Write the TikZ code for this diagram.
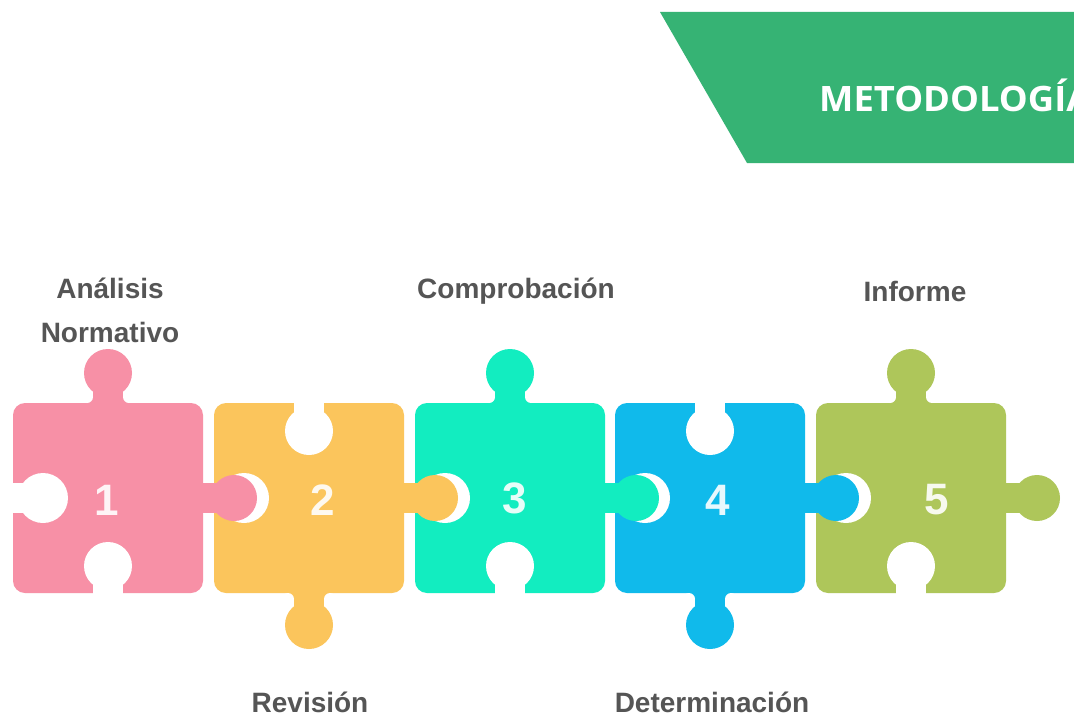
\documentclass[tikz,border=0pt]{standalone}
\usepackage{fontspec}
\setmainfont{Liberation Sans}
\newfontfamily\headfont{Open Sans}
\definecolor{cpink}{HTML}{F790A6}
\definecolor{cyellow}{HTML}{FBC55C}
\definecolor{cteal}{HTML}{12EDC0}
\definecolor{cblue}{HTML}{10BAEB}
\definecolor{cgreen}{HTML}{AEC65A}
\definecolor{chead}{HTML}{36B374}
\definecolor{clabel}{HTML}{555555}
\tikzset{
  lbl/.style={font=\bfseries\fontsize{28}{28}\selectfont, text=clabel, anchor=base, inner sep=0pt},
  num/.style={font=\bfseries\fontsize{44}{44}\selectfont, text=white, text opacity=0.9, inner sep=0pt},
}
% body with top knob (type 1) or bottom knob (type 2)
\newcommand\pbody[3]{% cx, colour, type
  \fill[#2, rounded corners=12pt] ({#1-95},403) rectangle ({#1+95},593);
  \ifnum#3=1
    \fill[#2] (#1,373) circle[radius=24pt];
    \fill[#2] ({#1-15},373) rectangle ({#1+15},406);
    \fill[#2] ({#1-21},397) rectangle ({#1+21},404);
    \fill[white] ({#1-21},397) circle[radius=6pt];
    \fill[white] ({#1+21},397) circle[radius=6pt];
  \else
    \fill[#2] (#1,625) circle[radius=24pt];
    \fill[#2] ({#1-15},590) rectangle ({#1+15},625);
    \fill[#2] ({#1-21},592) rectangle ({#1+21},599);
    \fill[white] ({#1-21},599) circle[radius=6pt];
    \fill[white] ({#1+21},599) circle[radius=6pt];
  \fi}
\newcommand\pholes[2]{% cx, type
  \ifnum#2=1
    \fill[white] (#1,566) circle[radius=24pt];
    \fill[white] ({#1-15},566) rectangle ({#1+15},597);
  \else
    \fill[white] (#1,431) circle[radius=24pt];
    \fill[white] ({#1-15},399) rectangle ({#1+15},431);
  \fi
  \fill[white] ({#1-65},498) circle[radius=25pt];
  \fill[white] ({#1-99},483) rectangle ({#1-65},513);}
\newcommand\pknob[2]{% cx, colour
  \fill[#2] ({#1+126},498) circle[radius=23pt];
  \fill[#2] ({#1+92},483) rectangle ({#1+126},513);}
\begin{document}
\begin{tikzpicture}[x=1pt,y=-1pt]
\useasboundingbox (0,0) rectangle (1074,717);
\fill[white] (0,0) rectangle (1074,717);
\begin{scope}
  \clip (0,0) rectangle (1074,717);
  \fill[chead] (660,12) -- (1080,12) -- (1080,163) -- (747,163) -- cycle;
  \node[anchor=base west, inner sep=0pt, text=white, xscale=1.04, font=\headfont\bfseries\fontsize{35}{35}\selectfont] (title) at (819,111) {METODOLOGÍA};
\end{scope}
% bodies
\pbody{108}{cpink}{1}
\pbody{309}{cyellow}{2}
\pbody{510}{cteal}{1}
\pbody{710}{cblue}{2}
\pbody{911}{cgreen}{1}
% holes
\pholes{108}{1}
\pholes{309}{2}
\pholes{510}{1}
\pholes{710}{2}
\pholes{911}{1}
% right knobs
\pknob{108}{cpink}
\pknob{309}{cyellow}
\pknob{510}{cteal}
\pknob{710}{cblue}
\pknob{911}{cgreen}
% numbers
\node[num] (n1) at (107,500) {1};
\node[num] (n2) at (323,500) {2};
\node[num] (n3) at (515,498) {3};
\node[num] (n4) at (718,500) {4};
\node[num] (n5) at (937,500) {5};
% labels
\node[lbl] (l1a) at (110,298) {Análisis};
\node[lbl] (l1b) at (110,342) {Normativo};
\node[lbl] (l3) at (516,298) {Comprobación};
\node[lbl] (l5) at (915,301) {Informe};
\node[lbl] (l2) at (310,712) {Revisión};
\node[lbl] (l4) at (712,712) {Determinación};
\end{tikzpicture}
\end{document}
